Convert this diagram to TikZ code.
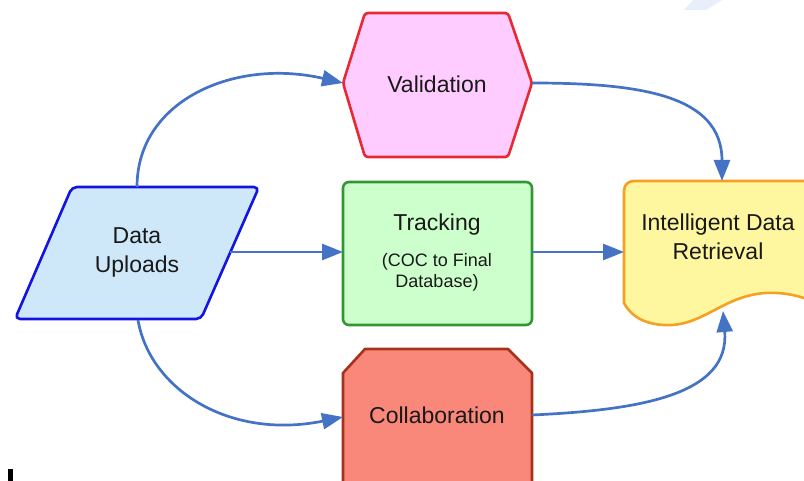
\documentclass[tikz,border=0pt]{standalone}
\usepackage{fontspec}
\setmainfont{Liberation Sans}
\usetikzlibrary{arrows.meta}
\definecolor{conncol}{RGB}{68,114,196}
\definecolor{txtcol}{RGB}{25,25,25}
\definecolor{dufill}{RGB}{206,232,250}
\definecolor{dudraw}{RGB}{20,20,225}
\definecolor{valfill}{RGB}{255,204,255}
\definecolor{valdraw}{RGB}{232,40,50}
\definecolor{trfill}{RGB}{204,255,204}
\definecolor{trdraw}{RGB}{50,150,50}
\definecolor{cofill}{RGB}{249,135,122}
\definecolor{codraw}{RGB}{165,50,25}
\definecolor{idfill}{RGB}{255,247,160}
\definecolor{iddraw}{RGB}{245,160,35}
\definecolor{wmark}{RGB}{232,238,250}
\tikzset{
  shapeline/.style={line width=2.6pt, line join=round},
  lbl/.style={text=txtcol, align=center, inner sep=0pt, font=\fontsize{23}{29}\selectfont},
  sublbl/.style={text=txtcol, align=center, inner sep=0pt, font=\fontsize{18}{21}\selectfont},
  conn/.style={draw=conncol, line width=2.7pt, -{Triangle[length=21pt,width=16pt]}}
}
\begin{document}
\begin{tikzpicture}[x=1pt,y=-1pt]
\useasboundingbox (0,0) rectangle (804,481);
\clip (0,0) rectangle (804,481);
% faint artefacts
\fill[wmark] (693,0) -- (722,0) -- (706,10) -- (684,10) -- cycle;
\fill[black] (8,469) rectangle (13,481);
% Data Uploads
\draw[shapeline, draw=dudraw, fill=dufill, rounded corners=5pt]
  (72,187) -- (259,187) -- (201,319) -- (15,319) -- cycle;
\node[lbl] (du) at (137,252) {Data\\Uploads};
% Validation
\draw[shapeline, draw=valdraw, fill=valfill, rounded corners=3pt]
  (343,83) -- (365,13) -- (508,13) -- (532,83) -- (508,157) -- (365,157) -- cycle;
\node[lbl] (val) at (437,84) {Validation};
% Tracking
\draw[shapeline, draw=trdraw, fill=trfill, rounded corners=6pt]
  (343,182) rectangle (532,325);
\node[lbl] (tr) at (437,225) {Tracking};
\node[sublbl] (trsub) at (437,272) {(COC to Final\\Database)};
% Collaboration
\draw[shapeline, draw=codraw, fill=cofill]
  (343,373) -- (365,349) -- (508,349) -- (532,373) -- (532,495) -- (343,495) -- cycle;
\node[lbl] (co) at (437,415) {Collaboration};
% Intelligent Data Retrieval
\draw[shapeline, draw=iddraw, fill=idfill]
  (624,303) .. controls (632,318) and (648,326) .. (672,325)
  .. controls (705,323) and (725,296) .. (765,293)
  .. controls (785,292) and (800,296) .. (815,302)
  -- (815,181) -- (634,181) .. controls (628,181) and (624,185) .. (624,191) -- cycle;
\node[lbl] (idr) at (718,237) {Intelligent Data\\Retrieval};
% connection points
\coordinate (du-n) at (137,187);
\coordinate (du-e) at (230,252);
\coordinate (du-s) at (138,320);
\coordinate (val-w) at (343,83);
\coordinate (val-e) at (532,83);
\coordinate (tr-w) at (343,252);
\coordinate (tr-e) at (532,252);
\coordinate (co-w) at (343,417);
\coordinate (co-e) at (532,415);
\coordinate (idr-n) at (722,181);
\coordinate (idr-w) at (624,252);
\coordinate (idr-s) at (723,311);
% connectors
\draw[conn] (du-n) .. controls (137,100) and (235,58) .. (val-w);
\draw[conn] (val-e) .. controls (640,83) and (722,95) .. (idr-n);
\draw[conn] (du-e) -- (tr-w);
\draw[conn] (tr-e) -- (idr-w);
\draw[conn] (du-s) .. controls (150,390) and (230,440) .. (co-w);
\draw[conn] (co-e) .. controls (640,410) and (730,395) .. (idr-s);
\end{tikzpicture}
\end{document}
